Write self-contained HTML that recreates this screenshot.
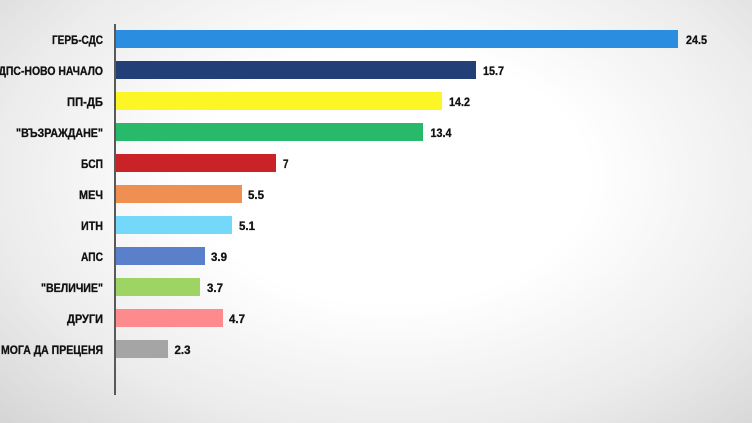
<!DOCTYPE html>
<html><head><meta charset="utf-8"><style>
html,body{margin:0;padding:0;}
body{width:752px;height:423px;overflow:hidden;background:radial-gradient(ellipse 75% 85% at 52% 42%,#ffffff 35%,#ececec 70%,#d3d3d3 100%);}
svg{display:block;}
text{font-family:"Liberation Sans",sans-serif;font-weight:bold;font-size:11.8px;fill:#111;stroke:#111;stroke-width:0.3px;}
</style></head><body>
<svg width="752" height="423" viewBox="0 0 752 423">
<g>
<rect x="116" y="30" width="562" height="18" fill="#2a8ddf"/>
<rect x="116" y="61" width="360" height="18" fill="#223f78"/>
<rect x="116" y="92" width="326" height="18" fill="#fdf626"/>
<rect x="116" y="123" width="307" height="18" fill="#28b96b"/>
<rect x="116" y="154" width="160" height="18" fill="#c92328"/>
<rect x="116" y="185" width="126" height="18" fill="#f08f52"/>
<rect x="116" y="216" width="116" height="18" fill="#74d8fb"/>
<rect x="116" y="247" width="89" height="18" fill="#5b80cb"/>
<rect x="116" y="278" width="84" height="18" fill="#9dd463"/>
<rect x="116" y="309" width="107" height="18" fill="#fd8b8e"/>
<rect x="116" y="340" width="52" height="18" fill="#a5a5a5"/>
</g>
<line x1="115" y1="24" x2="115" y2="395" stroke="#595959" stroke-width="2"/>
<g>
<text x="52" y="44" textLength="51" lengthAdjust="spacingAndGlyphs">ГЕРБ-СДС</text>
<text x="-1.5" y="75" textLength="104.5" lengthAdjust="spacingAndGlyphs">ДПС-НОВО НАЧАЛО</text>
<text x="67" y="106" textLength="36" lengthAdjust="spacingAndGlyphs">ПП-ДБ</text>
<text x="16" y="137" textLength="87" lengthAdjust="spacingAndGlyphs">"ВЪЗРАЖДАНЕ"</text>
<text x="81" y="168" textLength="22" lengthAdjust="spacingAndGlyphs">БСП</text>
<text x="79" y="199" textLength="24" lengthAdjust="spacingAndGlyphs">МЕЧ</text>
<text x="81" y="230" textLength="22" lengthAdjust="spacingAndGlyphs">ИТН</text>
<text x="81" y="261" textLength="22" lengthAdjust="spacingAndGlyphs">АПС</text>
<text x="41" y="292" textLength="62" lengthAdjust="spacingAndGlyphs">"ВЕЛИЧИЕ"</text>
<text x="67" y="323" textLength="36" lengthAdjust="spacingAndGlyphs">ДРУГИ</text>
<text x="-3" y="354" text-anchor="end">НЕ</text>
<text x="1" y="354" textLength="102" lengthAdjust="spacingAndGlyphs">МОГА ДА ПРЕЦЕНЯ</text>

<text x="686" y="44" textLength="21" lengthAdjust="spacingAndGlyphs">24.5</text>
<text x="483" y="75" textLength="21" lengthAdjust="spacingAndGlyphs">15.7</text>
<text x="449" y="106" textLength="21" lengthAdjust="spacingAndGlyphs">14.2</text>
<text x="430.5" y="137" textLength="21" lengthAdjust="spacingAndGlyphs">13.4</text>
<text x="283" y="168" textLength="5.5" lengthAdjust="spacingAndGlyphs">7</text>
<text x="248" y="199" textLength="16" lengthAdjust="spacingAndGlyphs">5.5</text>
<text x="239" y="230" textLength="16" lengthAdjust="spacingAndGlyphs">5.1</text>
<text x="211" y="261" textLength="16" lengthAdjust="spacingAndGlyphs">3.9</text>
<text x="207" y="292" textLength="16" lengthAdjust="spacingAndGlyphs">3.7</text>
<text x="229" y="323" textLength="16" lengthAdjust="spacingAndGlyphs">4.7</text>
<text x="174.5" y="354" textLength="16" lengthAdjust="spacingAndGlyphs">2.3</text>
</g>
</svg>
</body></html>
